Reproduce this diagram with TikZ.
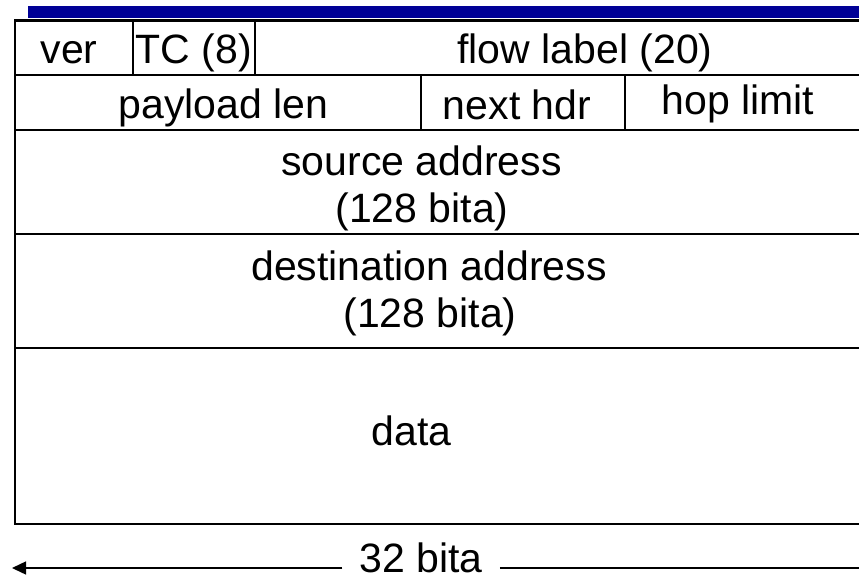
\documentclass[tikz,border=0pt]{standalone}
\usepackage{fontspec}
\setmainfont{Liberation Sans}
\usetikzlibrary{arrows.meta}
\definecolor{barblue}{RGB}{0,0,150}
\begin{document}
\begin{tikzpicture}[x=1pt,y=-1pt,
  grid/.style={line width=2.8pt,line cap=rect},
  lbl/.style={anchor=base,inner sep=0pt,font=\fontsize{41}{47}\selectfont},
  dim/.style={line width=1.4pt}]
\useasboundingbox (0,0) rectangle (859,584);
\clip (0,0) rectangle (859,584);
% blue bar
\fill[barblue] (28,6) rectangle (870,18.3);
% outer box and rows
\draw[grid] (870,20.5) -- (15,20.5) -- (15,524) -- (870,524);
\draw[grid] (15,75) -- (870,75);
\draw[grid] (15,130) -- (870,130);
\draw[grid] (15,234) -- (870,234);
\draw[grid] (15,348) -- (870,348);
% dividers
\draw[grid] (133,20.5) -- (133,75);
\draw[grid] (255,20.5) -- (255,75);
\draw[grid] (421,75) -- (421,130);
\draw[grid] (625,75) -- (625,130);
% texts
\node[lbl] (ver) at (69,63) {ver};
\node[lbl] (tc) at (194,63) {TC (8)};
\node[lbl] (flow) at (585,63) {flow label (20)};
\node[lbl] (pay) at (223.5,118) {payload len};
\node[lbl] (next) at (517,119) {next hdr};
\node[lbl] (hop) at (738,114) {hop limit};
\node[lbl] (src1) at (421.5,175) {source address};
\node[lbl] (src2) at (422,222) {(128 bita)};
\node[lbl] (dst1) at (429,280) {destination address};
\node[lbl] (dst2) at (430,327) {(128 bita)};
\node[lbl] (data) at (411.5,445) {data};
% width arrow
\node[font=\fontsize{41}{47}\selectfont,inner ysep=0pt,inner xsep=17pt] (bits) at (421,558) {32 bita};
\coordinate (leftend) at (12,568);
\coordinate (rightend) at (870,568);
\draw[dim,-{Triangle[length=14pt,width=13pt]}] (bits.west |- leftend) -- (leftend);
\draw[dim] (bits.east |- rightend) -- (rightend);
\end{tikzpicture}
\end{document}
